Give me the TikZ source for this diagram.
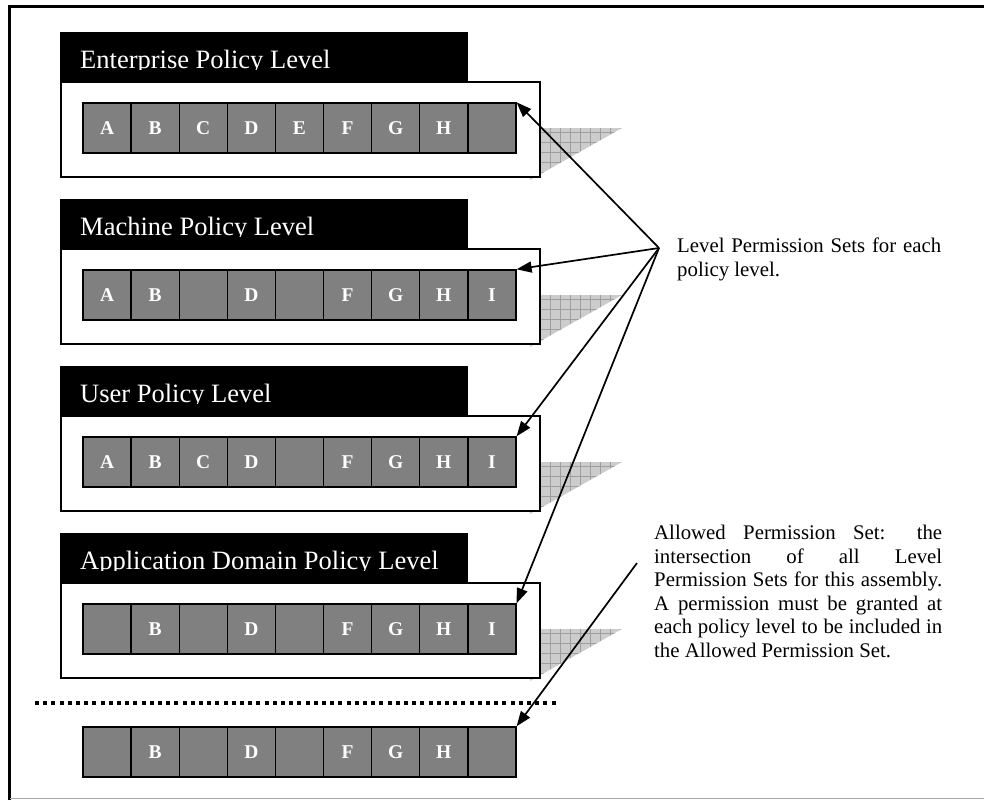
\documentclass[tikz,border=0pt]{standalone}
\usepackage{fontspec}
\setmainfont{Liberation Serif}
\usetikzlibrary{arrows.meta}

\tikzset{
  cell/.style={draw, line width=1.4pt, fill=black!50, text=white,
    font=\fontsize{19.5}{19.5}\selectfont\bfseries,
    minimum width=48.1pt, minimum height=50pt, inner sep=0pt},
  lvlhead/.style={fill=black, anchor=north west, minimum width=408pt,
    minimum height=49pt, inner sep=0pt},
  lvltitle/.style={anchor=base west, text=white, inner sep=0pt,
    font=\fontsize{26.5}{26.5}\selectfont},
  lvlbox/.style={draw, fill=white, line width=2.2pt, anchor=north west,
    minimum width=479pt, minimum height=95pt, inner sep=0pt},
  notetext/.style={anchor=north west, inner sep=0pt, align=justify,
    font=\fontsize{20.8}{23.5}\selectfont},
  conn/.style={line width=1.7pt, -{Triangle[length=15pt,width=11pt]}},
}

\begin{document}
\begin{tikzpicture}[x=1pt, y=-1pt]
    \useasboundingbox (0,0) rectangle (984,800);
    % frame
    \draw[line width=3pt] (9.5,800) -- (9.5,6.5) -- (984,6.5);
    \draw[black!35, line width=1.5pt] (9.5,798.5) -- (984,798.5);

    % shadows behind the level boxes
    \foreach \k in {0,...,3} {
        \begin{scope}
            \clip (530,128+167*\k) -- (622,128+167*\k) -- (530,180+167*\k) -- cycle;
            \fill[black!20] (525,120+167*\k) rectangle (630,185+167*\k);
            \foreach \x in {540,550,...,620}
                \draw[black!38, line width=0.6pt] (\x,120+167*\k) -- (\x,185+167*\k);
            \foreach \y in {132,142,...,182}
                \draw[black!38, line width=0.6pt] (525,\y+167*\k) -- (630,\y+167*\k);
        \end{scope}
    }

    % enterprise
    \node[lvlhead] (enth) at (60,32) {};
    \begin{scope}
        \clip (60,32) rectangle (468,69.5);
        \node[lvltitle] (entt) at (80,68) {Enterprise Policy Level};
    \end{scope}
    \node[lvlbox] (entb) at (60,81) {};
    \foreach \c [count=\i] in {A,B,C,D,E,F,G,H,{}}
        \node[cell] (e\i) at ({83+(\i-0.5)*48.1},128) {\c};

    % machine
    \node[lvlhead] (mach) at (60,199) {};
    \begin{scope}
        \clip (60,199) rectangle (468,236.5);
        \node[lvltitle] (macht) at (80,235) {Machine Policy Level};
    \end{scope}
    \node[lvlbox] (machb) at (60,248) {};
    \foreach \c [count=\i] in {A,B,{},D,{},F,G,H,I}
        \node[cell] (m\i) at ({83+(\i-0.5)*48.1},295) {\c};

    % user
    \node[lvlhead] (usrh) at (60,366) {};
    \begin{scope}
        \clip (60,366) rectangle (468,403.5);
        \node[lvltitle] (usrt) at (80,402) {User Policy Level};
    \end{scope}
    \node[lvlbox] (usrb) at (60,415) {};
    \foreach \c [count=\i] in {A,B,C,D,{},F,G,H,I}
        \node[cell] (u\i) at ({83+(\i-0.5)*48.1},462) {\c};

    % application domain
    \node[lvlhead] (apph) at (60,533) {};
    \begin{scope}
        \clip (60,533) rectangle (468,570.5);
        \node[lvltitle] (appt) at (80,569) {Application Domain Policy Level};
    \end{scope}
    \node[lvlbox] (appb) at (60,582) {};
    \foreach \c [count=\i] in {{},B,{},D,{},F,G,H,I}
        \node[cell] (a\i) at ({83+(\i-0.5)*48.1},629) {\c};

    % allowed set
    \draw[line width=4pt, dash pattern=on 4pt off 4.2pt] (35,703) -- (558,703);
    \foreach \c [count=\i] in {{},B,{},D,{},F,G,H,{}}
        \node[cell] (p\i) at ({83+(\i-0.5)*48.1},752) {\c};

    % notes
    \node[notetext, text width=264pt] (lpsnote) at (677,238)
        {\hyphenpenalty=10000\relax
         Level Permission Sets for each\linebreak policy level.};
    \node[notetext, text width=288pt] (apsnote) at (654,525)
        {\hyphenpenalty=10000\relax
         Allowed Permission Set: the\linebreak intersection of all Level\linebreak
         Permission Sets for this assembly.\linebreak A permission must be granted at\linebreak
         each policy level to be included in\linebreak the Allowed Permission Set.};

    \coordinate (lps) at (659,248);
    \coordinate (aps) at (637,563);
    \draw[conn] (lps) -- (e9.north east);
    \draw[conn] (lps) -- (m9.north east);
    \draw[conn] (lps) -- (u9.north east);
    \draw[conn] (lps) -- (a9.north east);
    \draw[conn] (aps) -- (p9.north east);
\end{tikzpicture}
\end{document}
